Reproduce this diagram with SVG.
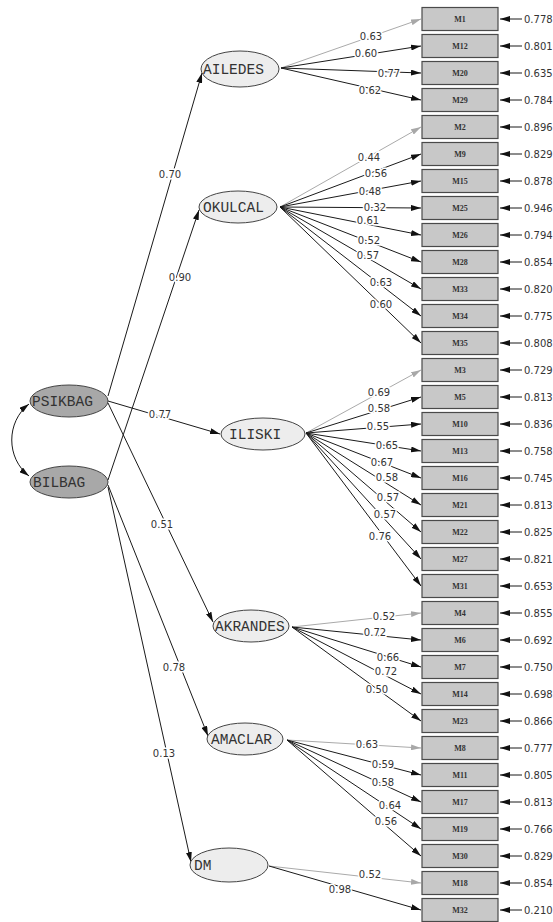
<svg xmlns="http://www.w3.org/2000/svg" width="553" height="922" viewBox="0 0 553 922">
<defs>
<marker id="ah" markerUnits="userSpaceOnUse" markerWidth="10" markerHeight="6" viewBox="0 0 10 6" refX="10" refY="3" orient="auto-start-reverse"><path d="M0,0 L10,3 L0,6 z" fill="#111"/></marker>
<marker id="ahg" markerUnits="userSpaceOnUse" markerWidth="10" markerHeight="6" viewBox="0 0 10 6" refX="10" refY="3" orient="auto"><path d="M0,0 L10,3 L0,6 z" fill="#a8a8a8"/></marker>
<style>
.c{stroke:#1a1a1a;stroke-width:1;fill:none;marker-end:url(#ah)}
.g{stroke:#aaaaaa;stroke-width:1;fill:none;marker-end:url(#ahg)}
.e{stroke:#1a1a1a;stroke-width:1;fill:none;marker-end:url(#ah)}
.box{fill:#c8c8c8;stroke:#4a4a4a;stroke-width:1.2}
.bt{font-family:"Liberation Serif",serif;font-weight:bold;font-size:8px;fill:#333;text-anchor:middle}
.lat{fill:#ededed;stroke:#444;stroke-width:1}
.exo{fill:#a8a8a8;stroke:#444;stroke-width:1}
.lt{font-family:"Liberation Mono",monospace;font-size:14.5px;fill:#333}
.v{font-family:"DejaVu Sans",sans-serif;font-size:10px;fill:#333}
.lb{font-family:"DejaVu Sans",sans-serif;font-size:10px;fill:#333;text-anchor:middle;stroke:#fff;stroke-width:3;paint-order:stroke}
</style>
</defs>
<rect width="553" height="922" fill="#fff"/>

<g id="connectors">
<!-- structural -->
<path class="c" d="M108,396 L202,73"/>
<path class="c" d="M108,401 L220,434"/>
<path class="c" d="M108,403 L213,622"/>
<path class="c" d="M108,480 L199,210"/>
<path class="c" d="M108,485 L208,736"/>
<path class="c" d="M108,487 L191,862"/>
<path class="c" d="M29,404 C6,422 6,458 29,476" style="marker-start:url(#ah)"/>
<!-- AILEDES -->
<path class="g" d="M281,68 L421,19"/>
<path class="c" d="M281,68 L421,46"/>
<path class="c" d="M281,68 L421,73"/>
<path class="c" d="M281,68 L421,100"/>
<!-- OKULCAL -->
<path class="g" d="M280,207 L421,127"/>
<path class="c" d="M280,207 L421,154"/>
<path class="c" d="M280,207 L421,181"/>
<path class="c" d="M280,207 L421,208"/>
<path class="c" d="M280,207 L421,235"/>
<path class="c" d="M280,207 L421,262"/>
<path class="c" d="M280,207 L421,289"/>
<path class="c" d="M280,207 L421,316"/>
<path class="c" d="M280,207 L421,343"/>
<!-- ILISKI -->
<path class="g" d="M306,433 L421,370"/>
<path class="c" d="M306,433 L421,397"/>
<path class="c" d="M306,433 L421,424"/>
<path class="c" d="M306,433 L421,451"/>
<path class="c" d="M306,433 L421,478"/>
<path class="c" d="M306,433 L421,505"/>
<path class="c" d="M306,433 L421,532"/>
<path class="c" d="M306,433 L421,559"/>
<path class="c" d="M306,433 L421,586"/>
<!-- AKRANDES -->
<path class="g" d="M292,627 L421,613"/>
<path class="c" d="M292,627 L421,640"/>
<path class="c" d="M292,627 L421,667"/>
<path class="c" d="M292,627 L421,694"/>
<path class="c" d="M292,627 L421,721"/>
<!-- AMACLAR -->
<path class="g" d="M287,740 L421,748"/>
<path class="c" d="M287,740 L421,775"/>
<path class="c" d="M287,740 L421,802"/>
<path class="c" d="M287,740 L421,829"/>
<path class="c" d="M287,740 L421,856"/>
<!-- DM -->
<path class="g" d="M269,866 L421,883"/>
<path class="c" d="M269,866 L421,910"/>
<!-- errors -->
<path class="e" d="M522,19 H500"/>
<path class="e" d="M522,46 H500"/>
<path class="e" d="M522,73 H500"/>
<path class="e" d="M522,100 H500"/>
<path class="e" d="M522,127 H500"/>
<path class="e" d="M522,154 H500"/>
<path class="e" d="M522,181 H500"/>
<path class="e" d="M522,208 H500"/>
<path class="e" d="M522,235 H500"/>
<path class="e" d="M522,262 H500"/>
<path class="e" d="M522,289 H500"/>
<path class="e" d="M522,316 H500"/>
<path class="e" d="M522,343 H500"/>
<path class="e" d="M522,370 H500"/>
<path class="e" d="M522,397 H500"/>
<path class="e" d="M522,424 H500"/>
<path class="e" d="M522,451 H500"/>
<path class="e" d="M522,478 H500"/>
<path class="e" d="M522,505 H500"/>
<path class="e" d="M522,532 H500"/>
<path class="e" d="M522,559 H500"/>
<path class="e" d="M522,586 H500"/>
<path class="e" d="M522,613 H500"/>
<path class="e" d="M522,640 H500"/>
<path class="e" d="M522,667 H500"/>
<path class="e" d="M522,694 H500"/>
<path class="e" d="M522,721 H500"/>
<path class="e" d="M522,748 H500"/>
<path class="e" d="M522,775 H500"/>
<path class="e" d="M522,802 H500"/>
<path class="e" d="M522,829 H500"/>
<path class="e" d="M522,856 H500"/>
<path class="e" d="M522,883 H500"/>
<path class="e" d="M522,910 H500"/>
</g>

<g id="labels">
<text class="lb" x="170" y="178">0.70</text>
<text class="lb" x="180" y="281">0.90</text>
<text class="lb" x="160" y="418">0.77</text>
<text class="lb" x="162" y="528">0.51</text>
<text class="lb" x="174" y="671">0.78</text>
<text class="lb" x="164" y="757">0.13</text>

<text class="lb" x="371" y="40">0.63</text>
<text class="lb" x="366" y="57">0.60</text>
<text class="lb" x="389" y="77">0.77</text>
<text class="lb" x="370" y="94">0.62</text>

<text class="lb" x="369" y="161">0.44</text>
<text class="lb" x="376" y="177">0.56</text>
<text class="lb" x="370" y="195">0.48</text>
<text class="lb" x="375" y="211">0.32</text>
<text class="lb" x="368" y="224">0.61</text>
<text class="lb" x="369" y="244">0.52</text>
<text class="lb" x="368" y="259">0.57</text>
<text class="lb" x="381" y="286">0.63</text>
<text class="lb" x="381" y="308">0.60</text>

<text class="lb" x="379" y="396">0.69</text>
<text class="lb" x="379" y="412">0.58</text>
<text class="lb" x="378" y="430">0.55</text>
<text class="lb" x="387" y="449">0.65</text>
<text class="lb" x="382" y="466">0.67</text>
<text class="lb" x="387" y="481">0.58</text>
<text class="lb" x="388" y="501">0.57</text>
<text class="lb" x="385" y="518">0.57</text>
<text class="lb" x="380" y="540">0.76</text>

<text class="lb" x="384" y="620">0.52</text>
<text class="lb" x="375" y="636">0.72</text>
<text class="lb" x="388" y="661">0.66</text>
<text class="lb" x="386" y="675">0.72</text>
<text class="lb" x="377" y="693">0.50</text>

<text class="lb" x="367" y="748">0.63</text>
<text class="lb" x="383" y="768">0.59</text>
<text class="lb" x="383" y="786">0.58</text>
<text class="lb" x="390" y="809">0.64</text>
<text class="lb" x="386" y="825">0.56</text>

<text class="lb" x="370" y="878">0.52</text>
<text class="lb" x="340" y="893">0.98</text>
</g>

<g id="PSIKBAG"><ellipse class="exo" cx="69" cy="401" rx="39" ry="16"/><text class="lt" x="32" y="406">PSIKBAG</text></g>
<g id="BILBAG"><ellipse class="exo" cx="69" cy="482" rx="39" ry="16"/><text class="lt" x="33" y="487">BILBAG</text></g>
<g id="AILEDES"><ellipse class="lat" cx="240" cy="69" rx="39" ry="18"/><text class="lt" x="203" y="74">AILEDES</text></g>
<g id="OKULCAL"><ellipse class="lat" cx="238" cy="207" rx="39" ry="16"/><text class="lt" x="203" y="212">OKULCAL</text></g>
<g id="ILISKI"><ellipse class="lat" cx="263" cy="434" rx="42" ry="16"/><text class="lt" x="229" y="439">ILISKI</text></g>
<g id="AKRANDES"><ellipse class="lat" cx="251" cy="626" rx="38" ry="16"/><text class="lt" x="215" y="631">AKRANDES</text></g>
<g id="AMACLAR"><ellipse class="lat" cx="245" cy="739" rx="38" ry="16"/><text class="lt" x="211" y="744">AMACLAR</text></g>
<g id="DM"><ellipse class="lat" cx="229" cy="865" rx="39" ry="17"/><text class="lt" x="194" y="870">DM</text></g>

<g id="M1"><rect class="box" x="422" y="7.5" width="76" height="23"/><text class="bt" x="460" y="22">M1</text><text class="v" x="524" y="22.5">0.778</text></g>
<g id="M12"><rect class="box" x="422" y="34.5" width="76" height="23"/><text class="bt" x="460" y="49">M12</text><text class="v" x="524" y="49.5">0.801</text></g>
<g id="M20"><rect class="box" x="422" y="61.5" width="76" height="23"/><text class="bt" x="460" y="76">M20</text><text class="v" x="524" y="76.5">0.635</text></g>
<g id="M29"><rect class="box" x="422" y="88.5" width="76" height="23"/><text class="bt" x="460" y="103">M29</text><text class="v" x="524" y="103.5">0.784</text></g>
<g id="M2"><rect class="box" x="422" y="115.5" width="76" height="23"/><text class="bt" x="460" y="130">M2</text><text class="v" x="524" y="130.5">0.896</text></g>
<g id="M9"><rect class="box" x="422" y="142.5" width="76" height="23"/><text class="bt" x="460" y="157">M9</text><text class="v" x="524" y="157.5">0.829</text></g>
<g id="M15"><rect class="box" x="422" y="169.5" width="76" height="23"/><text class="bt" x="460" y="184">M15</text><text class="v" x="524" y="184.5">0.878</text></g>
<g id="M25"><rect class="box" x="422" y="196.5" width="76" height="23"/><text class="bt" x="460" y="211">M25</text><text class="v" x="524" y="211.5">0.946</text></g>
<g id="M26"><rect class="box" x="422" y="223.5" width="76" height="23"/><text class="bt" x="460" y="238">M26</text><text class="v" x="524" y="238.5">0.794</text></g>
<g id="M28"><rect class="box" x="422" y="250.5" width="76" height="23"/><text class="bt" x="460" y="265">M28</text><text class="v" x="524" y="265.5">0.854</text></g>
<g id="M33"><rect class="box" x="422" y="277.5" width="76" height="23"/><text class="bt" x="460" y="292">M33</text><text class="v" x="524" y="292.5">0.820</text></g>
<g id="M34"><rect class="box" x="422" y="304.5" width="76" height="23"/><text class="bt" x="460" y="319">M34</text><text class="v" x="524" y="319.5">0.775</text></g>
<g id="M35"><rect class="box" x="422" y="331.5" width="76" height="23"/><text class="bt" x="460" y="346">M35</text><text class="v" x="524" y="346.5">0.808</text></g>
<g id="M3"><rect class="box" x="422" y="358.5" width="76" height="23"/><text class="bt" x="460" y="373">M3</text><text class="v" x="524" y="373.5">0.729</text></g>
<g id="M5"><rect class="box" x="422" y="385.5" width="76" height="23"/><text class="bt" x="460" y="400">M5</text><text class="v" x="524" y="400.5">0.813</text></g>
<g id="M10"><rect class="box" x="422" y="412.5" width="76" height="23"/><text class="bt" x="460" y="427">M10</text><text class="v" x="524" y="427.5">0.836</text></g>
<g id="M13"><rect class="box" x="422" y="439.5" width="76" height="23"/><text class="bt" x="460" y="454">M13</text><text class="v" x="524" y="454.5">0.758</text></g>
<g id="M16"><rect class="box" x="422" y="466.5" width="76" height="23"/><text class="bt" x="460" y="481">M16</text><text class="v" x="524" y="481.5">0.745</text></g>
<g id="M21"><rect class="box" x="422" y="493.5" width="76" height="23"/><text class="bt" x="460" y="508">M21</text><text class="v" x="524" y="508.5">0.813</text></g>
<g id="M22"><rect class="box" x="422" y="520.5" width="76" height="23"/><text class="bt" x="460" y="535">M22</text><text class="v" x="524" y="535.5">0.825</text></g>
<g id="M27"><rect class="box" x="422" y="547.5" width="76" height="23"/><text class="bt" x="460" y="562">M27</text><text class="v" x="524" y="562.5">0.821</text></g>
<g id="M31"><rect class="box" x="422" y="574.5" width="76" height="23"/><text class="bt" x="460" y="589">M31</text><text class="v" x="524" y="589.5">0.653</text></g>
<g id="M4"><rect class="box" x="422" y="601.5" width="76" height="23"/><text class="bt" x="460" y="616">M4</text><text class="v" x="524" y="616.5">0.855</text></g>
<g id="M6"><rect class="box" x="422" y="628.5" width="76" height="23"/><text class="bt" x="460" y="643">M6</text><text class="v" x="524" y="643.5">0.692</text></g>
<g id="M7"><rect class="box" x="422" y="655.5" width="76" height="23"/><text class="bt" x="460" y="670">M7</text><text class="v" x="524" y="670.5">0.750</text></g>
<g id="M14"><rect class="box" x="422" y="682.5" width="76" height="23"/><text class="bt" x="460" y="697">M14</text><text class="v" x="524" y="697.5">0.698</text></g>
<g id="M23"><rect class="box" x="422" y="709.5" width="76" height="23"/><text class="bt" x="460" y="724">M23</text><text class="v" x="524" y="724.5">0.866</text></g>
<g id="M8"><rect class="box" x="422" y="736.5" width="76" height="23"/><text class="bt" x="460" y="751">M8</text><text class="v" x="524" y="751.5">0.777</text></g>
<g id="M11"><rect class="box" x="422" y="763.5" width="76" height="23"/><text class="bt" x="460" y="778">M11</text><text class="v" x="524" y="778.5">0.805</text></g>
<g id="M17"><rect class="box" x="422" y="790.5" width="76" height="23"/><text class="bt" x="460" y="805">M17</text><text class="v" x="524" y="805.5">0.813</text></g>
<g id="M19"><rect class="box" x="422" y="817.5" width="76" height="23"/><text class="bt" x="460" y="832">M19</text><text class="v" x="524" y="832.5">0.766</text></g>
<g id="M30"><rect class="box" x="422" y="844.5" width="76" height="23"/><text class="bt" x="460" y="859">M30</text><text class="v" x="524" y="859.5">0.829</text></g>
<g id="M18"><rect class="box" x="422" y="871.5" width="76" height="23"/><text class="bt" x="460" y="886">M18</text><text class="v" x="524" y="886.5">0.854</text></g>
<g id="M32"><rect class="box" x="422" y="898.5" width="76" height="23"/><text class="bt" x="460" y="913">M32</text><text class="v" x="524" y="913.5">0.210</text></g>
</svg>
